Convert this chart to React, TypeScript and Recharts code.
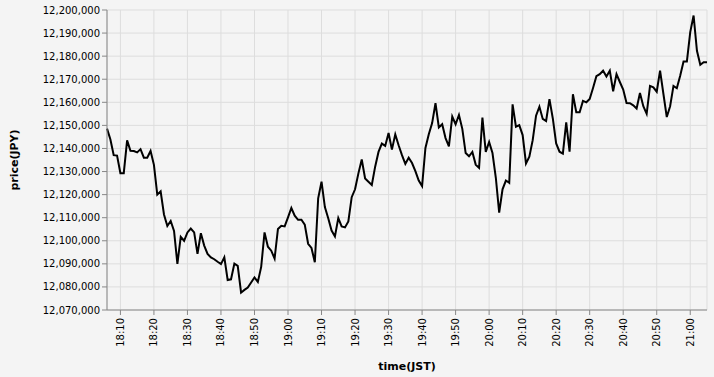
import React from "react";
import { LineChart, Line, XAxis, YAxis, CartesianGrid } from "recharts";

// Price per minute, 18:06 → 21:05 (JST)
const START_MINUTE = 18 * 60 + 6;

const prices = [
  12148600, 12144000, 12137100, 12136900, 12129300, 12129300, 12143500, 12139000, 12138900, 12138300,
  12139700, 12136000, 12136000, 12138900, 12132900, 12120000, 12121400, 12111400, 12106400, 12108600,
  12104300, 12090000, 12101700, 12100000, 12103600, 12105300, 12103600, 12094300, 12103300, 12097900,
  12094300, 12092800, 12092000, 12090900, 12089900, 12092800, 12083000, 12083300, 12090100, 12089100,
  12077500, 12078700, 12079700, 12081900, 12084100, 12082200, 12088700, 12103600, 12097400, 12095700,
  12092300, 12105100, 12106500, 12106200, 12110100, 12114200, 12110900, 12109100, 12109100, 12107000,
  12098700, 12096900, 12090700, 12118400, 12125600, 12114600, 12109800, 12104400, 12101900, 12109800,
  12106200, 12105800, 12108400, 12118900, 12122300, 12129200, 12135200, 12127000, 12125600, 12124200,
  12132100, 12138500, 12142100, 12141100, 12146700, 12139500, 12146100, 12141400, 12137100, 12133300,
  12136000, 12133700, 12130200, 12126100, 12123700, 12140200, 12146200, 12151000, 12159600, 12149100,
  12150500, 12144500, 12140900, 12153800, 12150500, 12154500, 12148500, 12138000, 12136600, 12138500,
  12133000, 12131600, 12153400, 12138500, 12142800, 12138000, 12127300, 12112200, 12122300, 12126100,
  12125100, 12159100, 12149400, 12150100, 12145800, 12133500, 12136400, 12143600, 12154200, 12158100,
  12152800, 12151900, 12161400, 12153000, 12142200, 12138600, 12137800, 12151300, 12138600, 12163500,
  12155700, 12155700, 12160600, 12160000, 12161400, 12166200, 12171300, 12172200, 12173700, 12171200,
  12173700, 12164800, 12172200, 12168800, 12165500, 12159700, 12159600, 12158700, 12157300, 12164000,
  12158300, 12155000, 12167100, 12166500, 12164600, 12173700, 12163600, 12153600, 12158300, 12167100,
  12166100, 12171500, 12177700, 12177700, 12190400, 12197600, 12182300, 12176300, 12177400, 12177400,
];

const xTicks = [
  1090, 1100, 1110, 1120, 1130, 1140, 1150, 1160, 1170, 1180, 1190, 1200, 1210, 1220, 1230, 1240, 1250, 1260,
];
const yTicks = [
  12070000, 12080000, 12090000, 12100000, 12110000, 12120000, 12130000,
  12140000, 12150000, 12160000, 12170000, 12180000, 12190000, 12200000,
];

const data = prices.map((price, i) => ({ minute: START_MINUTE + i, price }));

const FONT = "DejaVu Sans, Verdana, sans-serif";

const hhmm = (m: number) => `${Math.floor(m / 60)}:${String(m % 60).padStart(2, "0")}`;

function XTick({ x, y, payload }: { x?: number; y?: number; payload?: { value: number } }) {
  if (x == null || y == null || !payload) return null;
  return (
    <text
      x={x}
      y={y}
      transform={`rotate(-90, ${x}, ${y})`}
      textAnchor="end"
      dominantBaseline="central"
      fontSize={10}
      fontFamily={FONT}
      fill="#000"
    >
      {hhmm(payload.value)}
    </text>
  );
}

function YTick({ x, y, payload }: { x?: number; y?: number; payload?: { value: number } }) {
  if (x == null || y == null || !payload) return null;
  return (
    <text x={x} y={y} textAnchor="end" dominantBaseline="central" fontSize={10} fontFamily={FONT} fill="#000">
      {payload.value.toLocaleString("en-US")}
    </text>
  );
}

export default function App() {
  return (
    <div style={{ position: "absolute", left: 0, top: 0, width: 714, height: 377, background: "#f4f4f4" }}>
      <LineChart width={714} height={377} data={data} margin={{ top: 10, right: 7, bottom: 0, left: 0 }}>
        <CartesianGrid stroke="#ddd" strokeWidth={1} />
        <XAxis
          dataKey="minute"
          type="number"
          domain={[START_MINUTE, START_MINUTE + prices.length - 1]}
          ticks={xTicks}
          interval={0}
          height={67}
          tickSize={5}
          tickMargin={3}
          stroke="#888"
          tick={<XTick />}
        />
        <YAxis
          type="number"
          domain={[12070000, 12200000]}
          ticks={yTicks}
          interval={0}
          width={107}
          tickSize={5}
          tickMargin={2}
          stroke="#888"
          tick={<YTick />}
        />
        <Line
          type="linear"
          dataKey="price"
          stroke="#000"
          strokeWidth={2}
          dot={false}
          isAnimationActive={false}
        />
        <text x={407} y={366} textAnchor="middle" dominantBaseline="central" fontSize={11} fontWeight="bold" fontFamily={FONT} fill="#000">
          time(JST)
        </text>
        <text
          x={14}
          y={160}
          transform="rotate(-90, 14, 160)"
          textAnchor="middle"
          dominantBaseline="central"
          fontSize={11}
          fontWeight="bold"
          fontFamily={FONT}
          fill="#000"
        >
          price(JPY)
        </text>
      </LineChart>
    </div>
  );
}
